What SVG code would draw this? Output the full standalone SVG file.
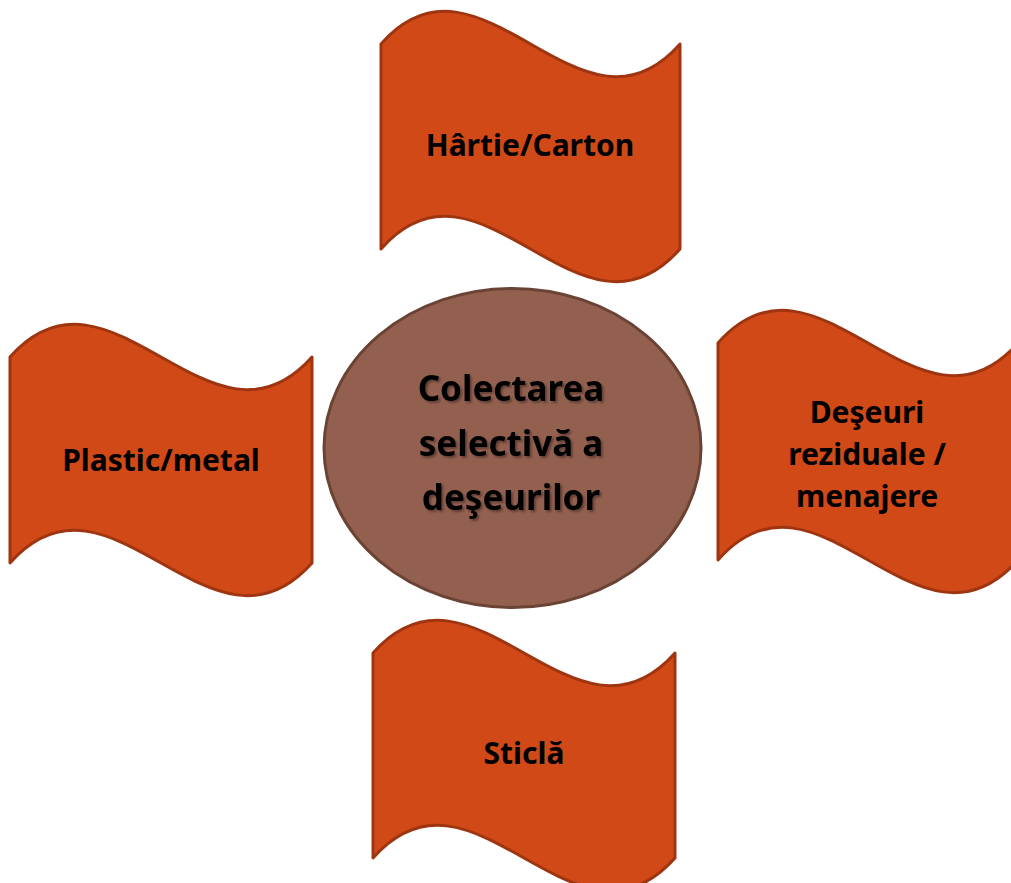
<svg xmlns="http://www.w3.org/2000/svg" width="1011" height="883" viewBox="0 0 1011 883">
<defs>
<style>
.wave{fill:#D04917;stroke:#9E3510;stroke-width:3;stroke-linejoin:round}
.lbl{font-family:"Noto Sans","Open Sans","DejaVu Sans",sans-serif;font-weight:bold;font-size:30px;fill:#000;text-anchor:middle}
.ctr{font-family:"Noto Sans","Open Sans","DejaVu Sans",sans-serif;font-weight:bold;font-size:35px;fill:#000;text-anchor:middle}
</style>
<filter id="sh" x="-10%" y="-10%" width="120%" height="130%">
<feDropShadow dx="2" dy="2" stdDeviation="1" flood-color="#000" flood-opacity="0.35"/>
</filter>
</defs>
<g id="connectors"/>
<g id="node-hartie">
<path class="wave" d="M381,44 C480.7,-69.3 580.3,157.3 680,44 L680,249 C580.3,362.3 480.7,135.7 381,249 Z"/>
<text class="lbl" x="530" y="156">Hârtie/Carton</text>
</g>
<g id="node-plastic">
<path class="wave" d="M10,357 C110.7,243.7 211.3,470.3 312,357 L312,563 C211.3,676.3 110.7,449.7 10,563 Z"/>
<text class="lbl" x="161" y="471">Plastic/metal</text>
</g>
<g id="node-deseuri">
<path class="wave" d="M718,343 C818,229.7 918,456.3 1018,343 L1018,560 C918,673.3 818,446.7 718,560 Z"/>
<text class="lbl" x="867" y="423">Deşeuri</text>
<text class="lbl" x="867" y="465">reziduale /</text>
<text class="lbl" x="867" y="507">menajere</text>
</g>
<g id="node-sticla">
<path class="wave" d="M373,653 C473.7,539.7 574.3,766.3 675,653 L675,858 C574.3,971.3 473.7,744.7 373,858 Z"/>
<text class="lbl" x="524" y="764">Sticlă</text>
</g>
<g id="node-center">
<ellipse cx="512.5" cy="448" rx="188.5" ry="159.5" fill="#93604F" stroke="#6A4334" stroke-width="3"/>
<g filter="url(#sh)">
<text class="ctr" x="511" y="401">Colectarea</text>
<text class="ctr" x="511" y="456">selectivă a</text>
<text class="ctr" x="511" y="510">deşeurilor</text>
</g>
</g>
</svg>
